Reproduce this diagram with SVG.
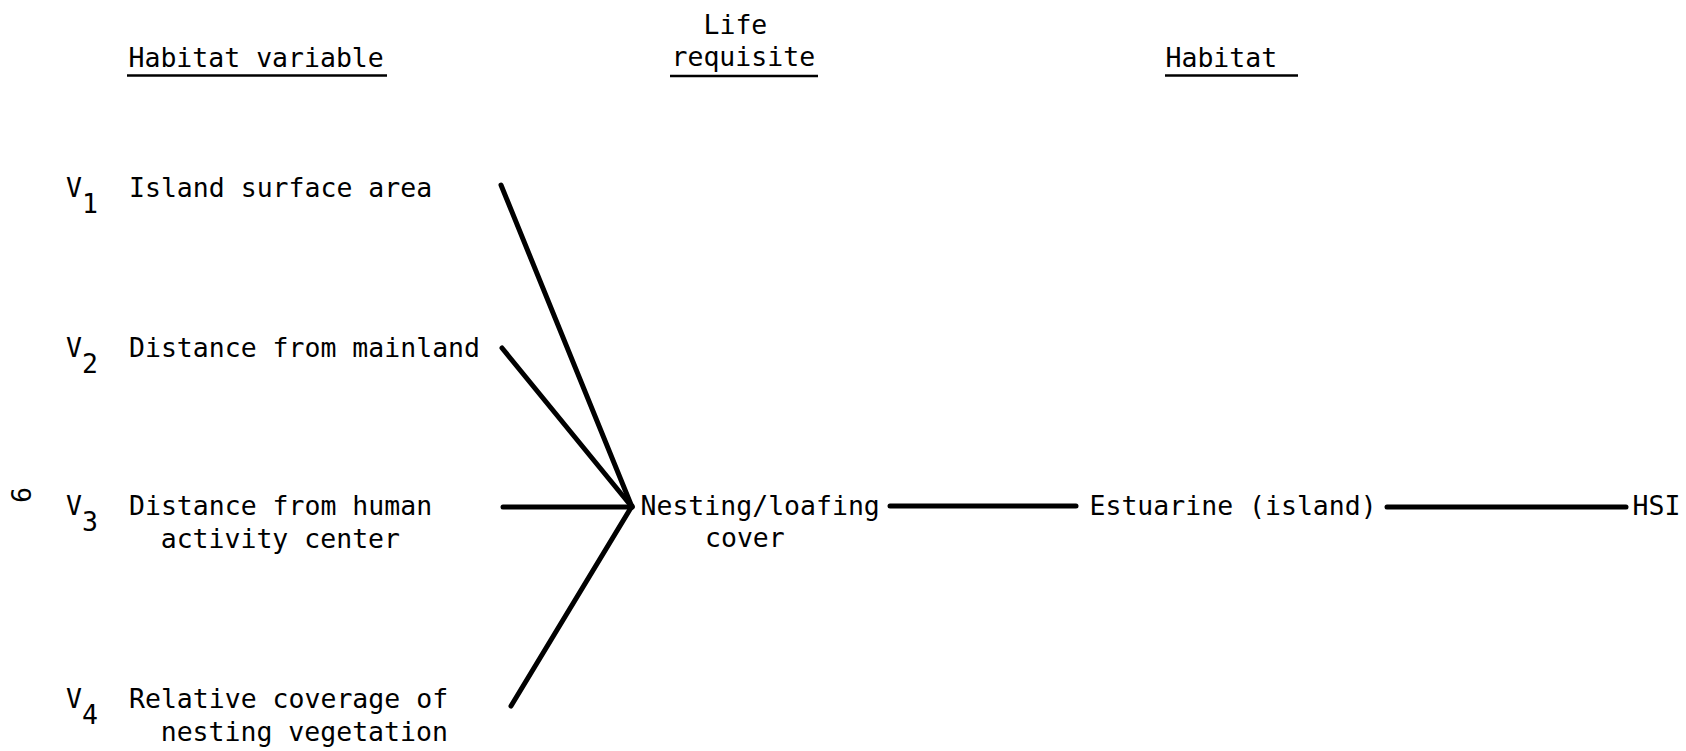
<svg xmlns="http://www.w3.org/2000/svg" width="1686" height="751" viewBox="0 0 1686 751">
  <style>
    text { font-family: "DejaVu Sans Mono", "Liberation Mono", monospace; font-size: 26.5px; fill: #000; }
    .rule { stroke: #000; stroke-width: 2.6; }
    .link { stroke: #000; stroke-width: 5; stroke-linecap: round; fill: none; }
  </style>
  <rect width="1686" height="751" fill="#fff"/>

  <!-- column headings -->
  <g id="heading-variable">
    <text x="128.5" y="67">Habitat variable</text>
    <line class="rule" x1="127" y1="75.5" x2="387" y2="75.5"/>
  </g>
  <g id="heading-requisite">
    <text x="703.5" y="34">Life</text>
    <text x="671.5" y="66">requisite</text>
    <line class="rule" x1="670" y1="76" x2="818" y2="76"/>
  </g>
  <g id="heading-habitat">
    <text x="1165.5" y="67">Habitat</text>
    <line class="rule" x1="1165" y1="75.5" x2="1298" y2="75.5"/>
  </g>

  <!-- page number -->
  <text id="page-number" transform="translate(21,495) rotate(90)" text-anchor="middle" dy="0.36em">9</text>

  <!-- habitat variables -->
  <g id="v1">
    <text x="66" y="197">V<tspan dy="16">1</tspan></text>
    <text x="129" y="197">Island surface area</text>
  </g>
  <g id="v2">
    <text x="66" y="357">V<tspan dy="16">2</tspan></text>
    <text x="129" y="357">Distance from mainland</text>
  </g>
  <g id="v3">
    <text x="66" y="515">V<tspan dy="16">3</tspan></text>
    <text x="129" y="515">Distance from human</text>
    <text x="160.7" y="548">activity center</text>
  </g>
  <g id="v4">
    <text x="66" y="708">V<tspan dy="16">4</tspan></text>
    <text x="129" y="708">Relative coverage of</text>
    <text x="160.7" y="741">nesting vegetation</text>
  </g>

  <!-- life requisite, habitat, index -->
  <g id="nesting-cover">
    <text x="640.5" y="515">Nesting/loafing</text>
    <text x="705" y="547">cover</text>
  </g>
  <g id="estuarine">
    <text x="1089.5" y="515">Estuarine (island)</text>
  </g>
  <g id="hsi">
    <text x="1632.5" y="515">HSI</text>
  </g>

  <!-- connectors -->
  <g id="connectors">
    <line class="link" x1="501" y1="185" x2="632" y2="507"/>
    <line class="link" x1="502" y1="348" x2="632" y2="507"/>
    <line class="link" x1="503" y1="507" x2="632" y2="507"/>
    <line class="link" x1="511" y1="706" x2="632" y2="506"/>
    <line class="link" x1="890" y1="506" x2="1076" y2="506" stroke-linecap="butt"/>
    <line class="link" x1="1387" y1="507" x2="1626" y2="507" stroke-linecap="butt" stroke-width="5.5"/>
  </g>
</svg>
